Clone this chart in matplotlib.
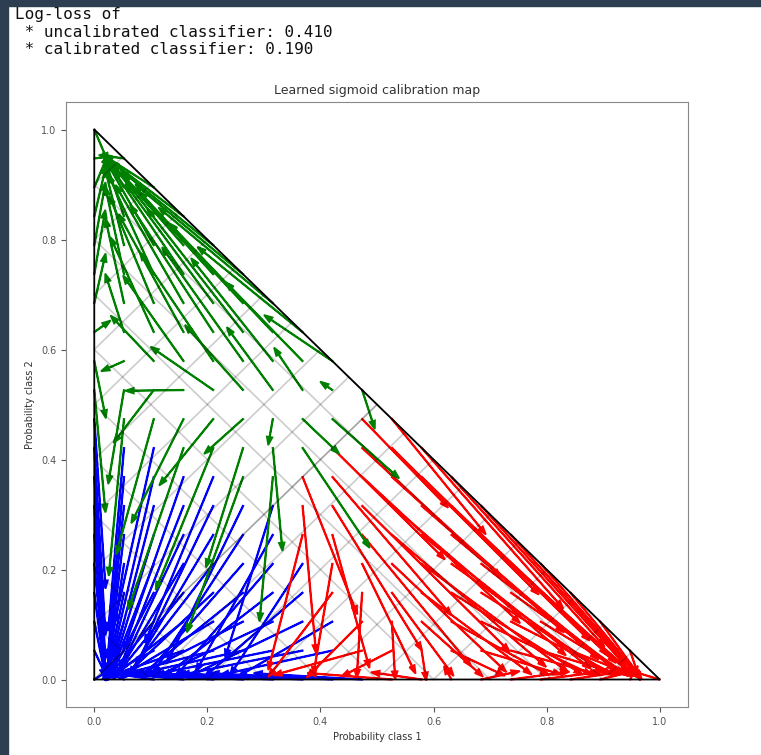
import numpy as np
import matplotlib
matplotlib.use("Agg")
import matplotlib.pyplot as plt
from matplotlib.patches import Rectangle

# grid of uncalibrated probabilities (20 levels over the simplex edge)
levels = [0.0, 0.0526, 0.1053, 0.1579, 0.2105, 0.2632, 0.3158, 0.3684, 0.4211, 0.4737,
          0.5263, 0.5789, 0.6316, 0.6842, 0.7368, 0.7895, 0.8421, 0.8947, 0.9474, 1.0]

# calibrator output for each class at each level (estimated from the map)
cal_class1 = [0.0190, 0.0239, 0.0317, 0.0435, 0.0613, 0.0879, 0.1266, 0.1807, 0.2530, 0.3429,
              0.4464, 0.5544, 0.6567, 0.7452, 0.8154, 0.8700, 0.9100, 0.9400, 0.9600, 0.9750]
cal_class2 = [0.0121, 0.0122, 0.0125, 0.0132, 0.0148, 0.0185, 0.0290, 0.0520, 0.0950, 0.1800,
              0.3275, 0.5297, 0.7241, 0.8600, 0.9351, 0.9713, 0.9876, 0.9946, 0.9977, 0.9990]
cal_class3 = [0.0270, 0.0340, 0.0460, 0.0670, 0.1016, 0.1603, 0.2526, 0.3813, 0.5332, 0.6812,
              0.8007, 0.8833, 0.9345, 0.9643, 0.9808, 0.9898, 0.9945, 0.9971, 0.9984, 0.9992]

grid_steps = [0.0, 0.1, 0.2, 0.3, 0.4, 0.5, 0.6, 0.7, 0.8, 0.9, 1.0]
colors = ["r", "g", "b"]

log_lines = ["Log-loss of",
             " * uncalibrated classifier: 0.410",
             " * calibrated classifier: 0.190"]

fig = plt.figure(figsize=(7.61, 7.55), dpi=100)
fig.patch.set_facecolor("white")

# notebook frame strips
fig.patches.append(Rectangle((0, 0), 8 / 761, 1, transform=fig.transFigure,
                             color="#2c3e50", zorder=0))
fig.patches.append(Rectangle((0, 1 - 6 / 755), 1, 6 / 755, transform=fig.transFigure,
                             color="#2c3e50", zorder=0))

for n, line in enumerate(log_lines):
    fig.text(15 / 761, 1 - (15 + 17.5 * n) / 755, line, family="DejaVu Sans Mono",
             fontsize=11.5, va="center", ha="left", color="#111111")

ax = fig.add_axes([66 / 761, 48 / 755, 622 / 761, 605 / 755])

calib = np.array([cal_class1, cal_class2, cal_class3])
N = len(levels)
for j in range(N):
    for i in range(N - j):
        k = N - 1 - i - j
        q = np.array([calib[0, i], calib[1, j], calib[2, k]])
        q = q / q.sum()
        c = colors[int(np.argmax([i, j, k]))]
        ax.arrow(levels[i], levels[j], q[0] - levels[i], q[1] - levels[j],
                 head_width=1e-2, color=c, lw=1.25)

# simplex boundary
ax.plot([0.0, 1.0, 0.0, 0.0], [0.0, 0.0, 1.0, 0.0], "k", lw=1.3)

for x in grid_steps:
    ax.plot([0, x], [x, 0], "k", alpha=0.2, lw=1.2)
    ax.plot([0, 0 + (1 - x) / 2], [x, x + (1 - x) / 2], "k", alpha=0.2, lw=1.2)
    ax.plot([x, x + (1 - x) / 2], [0, 0 + (1 - x) / 2], "k", alpha=0.2, lw=1.2)

ax.set_title("Learned sigmoid calibration map", fontsize=9, color="#333333")
ax.set_xlabel("Probability class 1", fontsize=7, color="#333333")
ax.set_ylabel("Probability class 2", fontsize=7, color="#333333")
ax.set_xlim(-0.05, 1.05)
ax.set_ylim(-0.05, 1.05)
ax.set_xticks([0.0, 0.2, 0.4, 0.6, 0.8, 1.0])
ax.set_yticks([0.0, 0.2, 0.4, 0.6, 0.8, 1.0])
ax.tick_params(labelsize=7, colors="#555555")
for s in ax.spines.values():
    s.set_color("#888888")

fig.savefig("out.png", dpi=100)
